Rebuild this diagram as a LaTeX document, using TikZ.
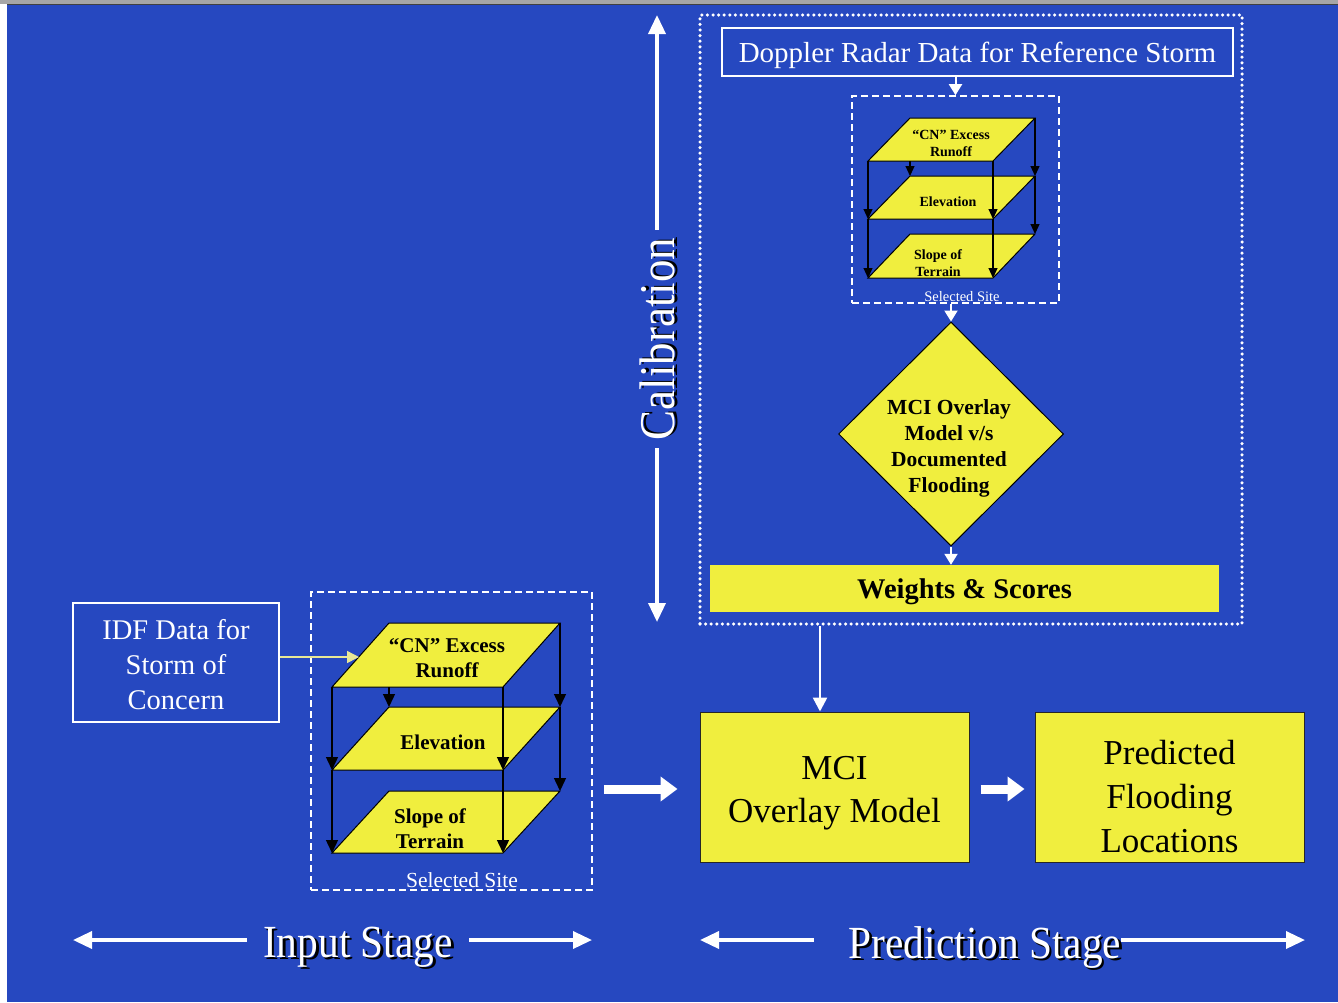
\documentclass[tikz,border=0pt]{standalone}
\usepackage{fontspec}
\setmainfont{Liberation Serif}
\usetikzlibrary{arrows.meta,shapes.geometric,calc}
\definecolor{bgblue}{RGB}{38,72,192}
\definecolor{lay}{RGB}{240,238,62}
\definecolor{paley}{RGB}{232,232,150}
\newcommand\myfs[2]{\fontsize{#1}{#2}\selectfont}
\begin{document}
\begin{tikzpicture}[x=1pt,y=-1pt,
  wbox/.style={draw=white,line width=1.6,inner sep=0,text=white},
  ybox/.style={draw=black!85,fill=lay,line width=1,inner sep=0},
  dashbox/.style={draw=white,line width=1.6,dash pattern=on 7pt off 4pt,inner sep=0},
  dotbox/.style={draw=white,line width=3.5,dash pattern=on 0pt off 5.6pt,line cap=round,inner sep=0},
  warr/.style={draw=white,line width=2,-{Triangle[width=13pt,length=11pt]}},
  bigarr/.style={draw=white,line width=3.5,-{Triangle[width=17pt,length=19pt]}},
  fatarr/.style={draw=white,line width=9,-{Triangle[width=24pt,length=17pt]}},
  sarr/.style={draw=black,line width=1.2,-{Triangle[width=9pt,length=10pt]}},
  larr/.style={draw=black,line width=1.4,-{Triangle[width=12pt,length=13pt]}},
  layer/.style={fill=lay,draw=black,line width=1},
  stxt/.style={align=center,font=\bfseries\myfs{14}{17},inner sep=0},
  ltxt/.style={align=center,font=\bfseries\myfs{21}{25},inner sep=0},
  stage/.style={text=white,inner sep=0,font=\myfs{46}{50}},
  stagesh/.style={text=black,inner sep=0,font=\myfs{46}{50}}]
\useasboundingbox (0,0) rectangle (1338,1002);
\fill[white] (0,0) rectangle (1338,1002);
\fill[bgblue] (7,5) rectangle (1338,1002);
\fill[black!35] (0,0) rectangle (1338,4);
\draw[black!75,line width=1] (7,4.5) -- (1338,4.5);

% ---------- calibration block ----------
\node[dotbox,minimum width=542,minimum height=609] (calbox) at (971,319.5) {};
\node[wbox,minimum width=511,minimum height=48] (dop) at (977.5,52) {};
\node[text=white,inner sep=0,font=\myfs{29}{34}] (dopt) at (977.5,55) {Doppler Radar Data for Reference Storm};
\node[dashbox,minimum width=207,minimum height=207] (tsite) at (955.5,199.5) {};
\node[text=white,inner sep=0,font=\myfs{14.5}{17}] (tsitel) at (962,297) {Selected Site};

% top stack layers
\coordinate (ta1) at (868,161); \coordinate (tb1) at (993,161); \coordinate (tc1) at (1035,118); \coordinate (td1) at (910,118);
\coordinate (ta2) at (868,219); \coordinate (tb2) at (993,219); \coordinate (tc2) at (1035,176); \coordinate (td2) at (910,176);
\coordinate (ta3) at (868,278); \coordinate (tb3) at (993,278); \coordinate (tc3) at (1035,234); \coordinate (td3) at (910,234);
\draw[layer] (ta3) -- (tb3) -- (tc3) -- (td3) -- cycle;
\draw[layer] (ta2) -- (tb2) -- (tc2) -- (td2) -- cycle;
\draw[layer] (ta1) -- (tb1) -- (tc1) -- (td1) -- cycle;
\draw[sarr] (ta1) -- (ta2);
\draw[sarr] (ta2) -- (ta3);
\draw[sarr] (tb1) -- (tb2);
\draw[sarr] (tb2) -- (tb3);
\draw[sarr] (tc1) -- (tc2);
\draw[sarr] (tc2) -- (tc3);
\draw[sarr] (ta1 -| td2) -- (td2);
\node[stxt] (t1) at (951,143) {“CN” Excess\\Runoff};
\node[stxt] (t2) at (948,202) {Elevation};
\node[stxt] (t3) at (938,263) {Slope of\\Terrain};

\node[diamond,draw=black,fill=lay,line width=1,minimum width=225,minimum height=224,inner sep=0] (dia) at (951,434) {};
\node[align=center,font=\bfseries\myfs{21.5}{26},inner sep=0] (diat) at (949,448) {MCI Overlay\\Model v/s\\Documented\\Flooding};
\node[fill=lay,inner sep=0,minimum width=509,minimum height=47] (weights) at (964.5,588.5) {};
\node[inner sep=0,font=\bfseries\myfs{28.5}{32}] (weightst) at (964.5,592) {Weights \& Scores};

\draw[warr] (tsite.north |- dop.south) -- (tsite.north);
\draw[warr] (dia.north |- tsite.south) -- (dia.north);
\draw[warr] (dia.south) -- (dia.south |- weights.north);

% ---------- calibration arrow ----------
\coordinate (calT) at (657,15);
\coordinate (calB) at (657,622);
\node[rotate=90,text=black,inner sep=0,font=\myfs{50}{54}] (calsh) at (660,338) {\scalebox{0.9}[1]{Calibration}};
\node[rotate=90,text=white,inner sep=8,font=\myfs{50}{54}] (cal) at (657,339) {\scalebox{0.9}[1]{Calibration}};
\draw[bigarr] (cal.east) -- (calT);
\draw[bigarr] (cal.west) -- (calB);

% ---------- input block ----------
\node[dashbox,minimum width=281,minimum height=298] (lsite) at (451.5,741) {};
\node[text=white,inner sep=0,font=\myfs{21.5}{25}] (lsitel) at (462,880) {Selected Site};
\coordinate (la1) at (332,687); \coordinate (lb1) at (503,687); \coordinate (lc1) at (560,623); \coordinate (ld1) at (389,623);
\coordinate (la2) at (332,770); \coordinate (lb2) at (503,770); \coordinate (lc2) at (560,707); \coordinate (ld2) at (389,707);
\coordinate (la3) at (332,853); \coordinate (lb3) at (503,853); \coordinate (lc3) at (560,791); \coordinate (ld3) at (389,791);
\draw[layer] (la3) -- (lb3) -- (lc3) -- (ld3) -- cycle;
\draw[layer] (la2) -- (lb2) -- (lc2) -- (ld2) -- cycle;
\draw[layer] (la1) -- (lb1) -- (lc1) -- (ld1) -- cycle;
\draw[larr] (la1) -- (la2);
\draw[larr] (la2) -- (la3);
\draw[larr] (lb1) -- (lb2);
\draw[larr] (lb2) -- (lb3);
\draw[larr] (lc1) -- (lc2);
\draw[larr] (lc2) -- (lc3);
\draw[larr] (la1 -| ld2) -- (ld2);
\node[ltxt] (l1) at (447,658) {“CN” Excess\\Runoff};
\node[ltxt] (l2) at (443,742) {Elevation};
\node[ltxt] (l3) at (430,829) {Slope of\\Terrain};

\node[wbox,minimum width=206,minimum height=119] (idf) at (176,662.5) {};
\node[text=white,inner sep=0,align=center,font=\myfs{28.5}{35}] (idft) at (176,665) {IDF Data for\\Storm of\\Concern};
\coordinate (idfT) at (359,657);
\draw[paley,line width=1.5,-{Triangle[width=12pt,length=12pt]}] (idf.east |- idfT) -- (idfT);

% ---------- prediction block ----------
\node[ybox,minimum width=269,minimum height=150] (mci) at (834.5,787) {};
\node[inner sep=0,align=center,font=\myfs{35}{43}] (mcit) at (834.5,793) {MCI\\Overlay Model};
\node[ybox,minimum width=269,minimum height=150] (pred) at (1169.5,787) {};
\node[inner sep=0,align=center,font=\myfs{35}{44}] (predt) at (1169.5,797) {Predicted\\Flooding\\Locations};
\draw[fatarr,shorten <=11pt,shorten >=10pt] (mci.east |- 0,789) -- (pred.west |- 0,789);
\draw[fatarr,shorten <=11pt,shorten >=22pt] (lsite.east |- 0,789) -- (mci.west |- 0,789);
\draw[draw=white,line width=2.5,-{Triangle[width=14pt,length=14pt]}] ([xshift=-14.5pt]mci.north |- calbox.south) -- ([xshift=-14.5pt]mci.north);

% ---------- stage labels ----------
\node[stagesh] (inSsh) at (360.5,949.5) {\scalebox{0.9}[1]{Input Stage}};
\node[stage] (inS) at (358,947) {\scalebox{0.9}[1]{Input Stage}};
\node[stagesh] (prSsh) at (987.5,949.5) {\scalebox{0.9}[1]{Prediction Stage}};
\node[stage] (prS) at (985,947) {\scalebox{0.9}[1]{Prediction Stage}};
\coordinate (inL) at (73,940); \coordinate (inR) at (592,940);
\coordinate (prL) at (700,940); \coordinate (prR) at (1305,940);
\draw[bigarr,shorten <=16pt] (inS.west |- inL) -- (inL);
\draw[bigarr,shorten <=16pt] (inS.east |- inR) -- (inR);
\draw[bigarr,shorten <=35pt] (prS.west |- prL) -- (prL);
\draw[bigarr] (prS.east |- prR) -- (prR);
\end{tikzpicture}
\end{document}
